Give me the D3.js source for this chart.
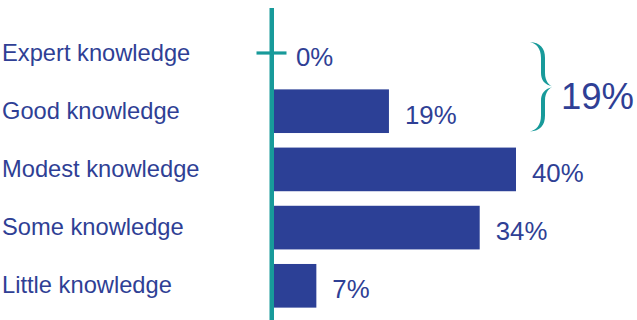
<!DOCTYPE html>
<html>
<head>
<meta charset="utf-8">
<script src="https://cdn.jsdelivr.net/npm/d3@7/dist/d3.min.js"></script>
<style>
  html, body { margin: 0; padding: 0; background: #fff; }
  svg { display: block; font-family: "Liberation Sans", Arial, Helvetica, sans-serif; }
</style>
</head>
<body>
<svg id="chart" width="637" height="320"></svg>
<script>
// Self-rated knowledge levels, share of respondents (%)
const categories = ["Expert knowledge", "Good knowledge", "Modest knowledge", "Some knowledge", "Little knowledge"];
const values = [0, 19, 40, 34, 7];
// Levels grouped by the brace on the right
const bracedGroup = ["Expert knowledge", "Good knowledge"];

const textBlue = "#2f3f95";
const barBlue = "#2c4096";
const teal = "#189a9a";

const svg = d3.select("#chart");
const data = categories.map((c, i) => ({ cat: c, val: values[i] }));

const x = d3.scaleLinear().domain([0, 40]).range([274, 516]);
const y = d3.scaleBand().domain(categories).range([23.9, 314.9])
  .paddingInner(0.25).paddingOuter(0.125);
const bw = y.bandwidth();
const mid = c => y(c) + bw / 2;

// Bars
svg.append("g").selectAll("rect")
  .data(data.filter(d => d.val > 0))
  .join("rect")
  .attr("x", x(0))
  .attr("y", d => y(d.cat))
  .attr("width", d => x(d.val) - x(0))
  .attr("height", bw)
  .attr("fill", barBlue);

// Vertical baseline
svg.append("line")
  .attr("x1", x(0) - 2.25).attr("x2", x(0) - 2.25)
  .attr("y1", 8).attr("y2", 320)
  .attr("stroke", teal).attr("stroke-width", 4.5);

// Tick marking zero-value rows
svg.append("g").selectAll("line")
  .data(data.filter(d => d.val === 0))
  .join("line")
  .attr("x1", x(0) - 17.5).attr("x2", x(0) + 12.5)
  .attr("y1", d => mid(d.cat)).attr("y2", d => mid(d.cat))
  .attr("stroke", teal).attr("stroke-width", 3.2);

// Category labels
svg.append("g").selectAll("text")
  .data(data)
  .join("text")
  .attr("x", 2)
  .attr("y", d => mid(d.cat) + 7.5)
  .attr("fill", textBlue)
  .attr("font-size", 23.7)
  .text(d => d.cat);

// Value labels
svg.append("g").selectAll("text")
  .data(data)
  .join("text")
  .attr("x", d => x(d.val) + (d.val === 0 ? 22 : 16))
  .attr("y", d => mid(d.cat) + 12.6)
  .attr("fill", textBlue)
  .attr("font-size", 25.8)
  .text(d => d.val + "%");

// Brace grouping the top two levels: one tapered arm, mirrored about the tip
const braceTop = y(bracedGroup[0]) + bw / 4;
const braceBottom = y(bracedGroup[bracedGroup.length - 1]) + bw - 1.5;
const tipY = (braceTop + braceBottom) / 2;
const bx0 = 530, bx1 = 542, bTip = 553.5;

function braceArm(y0, yt) {
  const p = d3.path();
  p.moveTo(bx0, y0);
  p.bezierCurveTo(bx0 + 10, y0 + 0.5, bx1 + 3, y0 + 6, bx1 + 3, y0 + 16);
  p.lineTo(bx1 + 3, yt - 14);
  p.bezierCurveTo(bx1 + 3, yt - 5, bTip - 4, yt - 1, bTip, yt);
  p.bezierCurveTo(bx1 + 2, yt - 2, bx1 - 1, yt - 7, bx1 - 1, yt - 14);
  p.lineTo(bx1 - 1, y0 + 16);
  p.bezierCurveTo(bx1 - 1, y0 + 6, bx0 + 6, y0 + 1.5, bx0, y0);
  p.closePath();
  return p.toString();
}
const braceG = svg.append("g").attr("fill", teal);
braceG.append("path").attr("d", braceArm(braceTop, tipY));
braceG.append("path")
  .attr("d", braceArm(braceTop, tipY))
  .attr("transform", `translate(0,${tipY * 2 + (braceBottom - braceTop) - (tipY - braceTop) * 2}) scale(1,-1)`);

// Combined share of the braced levels
const groupTotal = d3.sum(data.filter(d => bracedGroup.includes(d.cat)), d => d.val);
svg.append("text")
  .attr("x", 561)
  .attr("y", tipY + 22)
  .attr("fill", textBlue)
  .attr("font-size", 36.5)
  .text(groupTotal + "%");
</script>
</body>
</html>
